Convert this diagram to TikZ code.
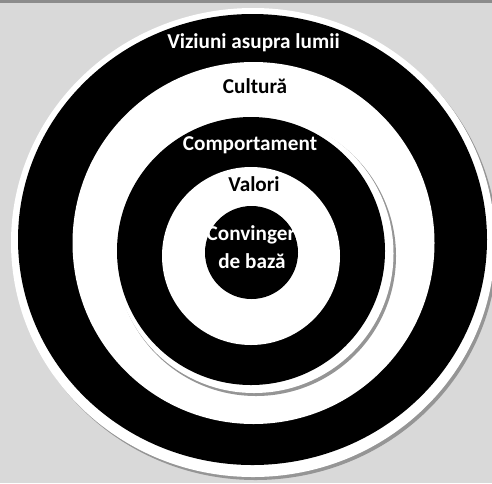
\documentclass[tikz,border=0pt]{standalone}
\usepackage{fontspec}
\setmainfont{Carlito}
\definecolor{bggray}{HTML}{D9D9D9}
\definecolor{topgray}{HTML}{8C8C8C}
\definecolor{shadowgray}{HTML}{959595}
\begin{document}
\begin{tikzpicture}[x=1pt,y=-1pt,
  lbl/.style={font=\bfseries\fontsize{21.2}{25}\selectfont, inner sep=0pt, anchor=base},
  onblack/.style={lbl, text=white},
  onwhite/.style={lbl, text=black}]
\useasboundingbox (0,0) rectangle (492,483);
\fill[bggray] (0,0) rectangle (492,483);
\fill[topgray] (0,0) rectangle (492,3);
% outer ring: black with white rim and shadow
\fill[shadowgray] (255.5,245.5) ellipse [x radius=242, y radius=234.5];
\fill[white] (253,242.5) ellipse [x radius=242, y radius=234.5];
\fill[black] (252.5,239.5) ellipse [x radius=234.5, y radius=225.5];
% Cultura white ring
\fill[white] (253.5,243) circle [radius=181];
% Comportament black disk with white rim and shadow
\fill[shadowgray] (256,256) circle [radius=140];
\fill[white] (254,253.5) circle [radius=139.5];
\fill[black] (251,251) circle [radius=134];
% Valori white disk
\fill[white] (251,256) circle [radius=89];
% center black disk
\fill[black] (251.5,252.5) circle [radius=46.5];
% labels
\node[onblack] (viz) at (253.5,48.5) {Viziuni asupra lumii};
\node[onwhite] (cul) at (255,93) {Cultură};
\node[onblack] (com) at (250,150) {Comportament};
\node[onwhite] (val) at (254,191) {Valori};
\node[onblack] (conv) at (253.5,240) {Convingeri};
\node[onblack] (baza) at (252,268.5) {de bază};
\end{tikzpicture}
\end{document}
